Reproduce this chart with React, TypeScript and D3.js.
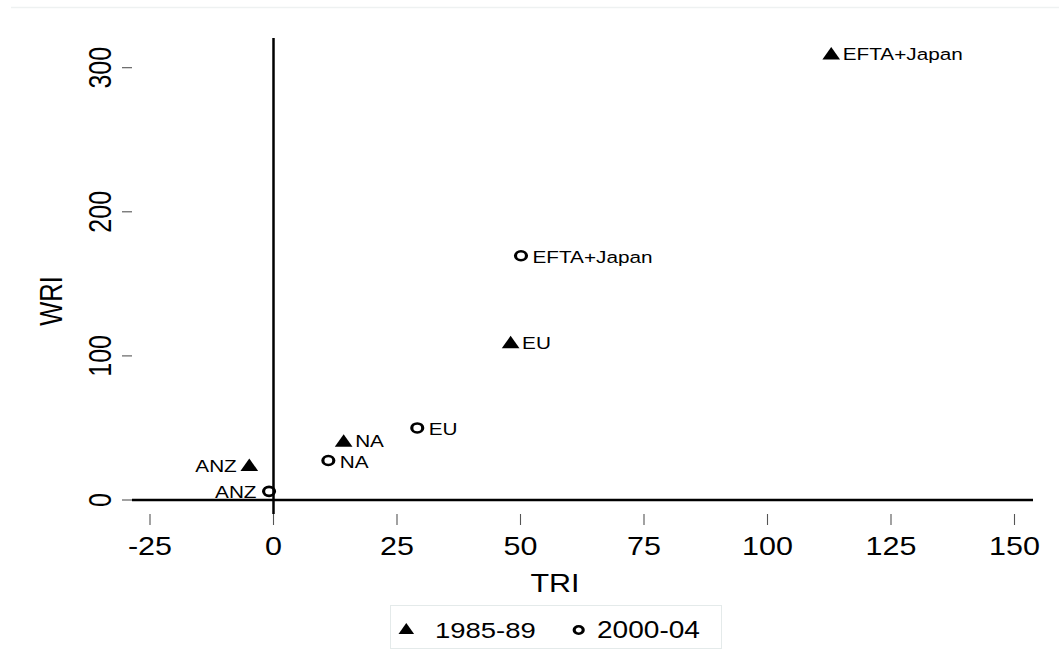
import React, { useEffect, useRef } from 'react'
import * as d3 from 'd3'

// regions and their indices (TRI on x, WRI on y)
const regions = ['ANZ', 'NA', 'EU', 'EFTA+Japan']
const tri1985 = [-4.9, 14.2, 48.0, 112.9]
const wri1985 = [24.5, 41.3, 109.6, 310]
const tri2000 = [-0.9, 11.1, 29.1, 50.1]
const wri2000 = [6.0, 27.4, 50.0, 169.5]
// label side for each region: left for ANZ, right for the rest
const labelLeft = [true, false, false, false]

const xTicks = [-25, 0, 25, 50, 75, 100, 125, 150]
const yTicks = [0, 100, 200, 300]
const seriesNames = ['1985-89', '2000-04']

const STRETCH = 1.22
const FONT = 'Liberation Sans, Arial, Helvetica, sans-serif'

const App = () => {
  const ref = useRef<SVGSVGElement>(null)

  useEffect(() => {
    const width = 1059
    const height = 649

    const x = d3.scaleLinear().domain([-25, 150]).range([150, 1014.5])
    const y = d3.scaleLinear().domain([0, 300]).range([500, 67.7])

    // plot region edges
    const left = 132, right = 1033, top = 38, bottom = 514

    const svg = d3.select(ref.current)
      .attr('width', width)
      .attr('height', height)
    svg.selectAll('*').remove()

    svg.append('rect').attr('width', width).attr('height', height).attr('fill', '#fff')
    svg.append('line')
      .attr('x1', 11).attr('x2', width).attr('y1', 7.5).attr('y2', 7.5)
      .attr('stroke', '#eef1f1').attr('stroke-width', 1.5)

    const text = (g: any, label: string, tx: number, ty: number, size: number, anchor: string, rotate = false) =>
      g.append('text')
        .attr('transform', `translate(${tx},${ty}) scale(${STRETCH},1)${rotate ? ' rotate(-90)' : ''}`)
        .attr('text-anchor', anchor)
        .attr('font-family', FONT)
        .attr('font-size', size)
        .attr('fill', '#000')
        .text(label)

    // y axis ticks + labels
    const yAxis = svg.append('g')
    yTicks.forEach(t => {
      yAxis.append('line').attr('x1', 122).attr('x2', left).attr('y1', y(t)).attr('y2', y(t))
        .attr('stroke', '#555').attr('stroke-width', 1.1)
      text(yAxis, String(t), 111, y(t), 25, 'middle', true)
    })
    text(yAxis, 'WRI', 62, 301, 25.5, 'middle', true)

    // x axis ticks + labels
    const xAxis = svg.append('g')
    xTicks.forEach(t => {
      xAxis.append('line').attr('x1', x(t)).attr('x2', x(t)).attr('y1', bottom).attr('y2', 525)
        .attr('stroke', '#555').attr('stroke-width', 1.1)
      text(xAxis, String(t), x(t), 555, 25, 'middle')
    })
    text(xAxis, 'TRI', 555, 591.5, 25, 'middle')

    // zero lines
    svg.append('line').attr('x1', left).attr('x2', right).attr('y1', y(0)).attr('y2', y(0))
      .attr('stroke', '#000').attr('stroke-width', 2.5)
    svg.append('line').attr('x1', x(0)).attr('x2', x(0)).attr('y1', top).attr('y2', bottom)
      .attr('stroke', '#000').attr('stroke-width', 2.5)

    const triangle = (g: any, cx: number, cy: number, s: number) =>
      g.append('path')
        .attr('transform', `translate(${cx},${cy}) scale(${STRETCH},1)`)
        .attr('d', `M${-s * 0.58},${s * 0.5}L${s * 0.58},${s * 0.5}L0,${-s * 0.5}Z`)
        .attr('fill', '#000')

    const ring = (g: any, cx: number, cy: number, r: number) =>
      g.append('circle')
        .attr('transform', `translate(${cx},${cy}) scale(${STRETCH},1)`)
        .attr('r', r)
        .attr('fill', 'none')
        .attr('stroke', '#000')
        .attr('stroke-width', 2.6)

    const marks = svg.append('g')
    regions.forEach((name, i) => {
      const px = x(tri1985[i]), py = y(wri1985[i])
      triangle(marks, px, py, 12.5)
      text(marks, name, labelLeft[i] ? px - 12.5 : px + 11.5, py + 7, 17, labelLeft[i] ? 'end' : 'start')

      const cx = x(tri2000[i]), cy = y(wri2000[i])
      ring(marks, cx, cy, 4.5)
      text(marks, name, labelLeft[i] ? cx - 12.5 : cx + 11.5, cy + 7, 17, labelLeft[i] ? 'end' : 'start')
    })

    // legend
    const legend = svg.append('g')
    legend.append('rect')
      .attr('x', 390.5).attr('y', 605.5).attr('width', 331).attr('height', 43)
      .attr('fill', '#fff').attr('stroke', '#e4eaea').attr('stroke-width', 1)
    triangle(legend, 406.3, 628.5, 11)
    text(legend, seriesNames[0], 435, 637.5, 22.5, 'start')
    ring(legend, 578.7, 630, 3.7)
    text(legend, seriesNames[1], 597, 637.5, 23, 'start')
  }, [])

  return (
    <svg ref={ref} style={{ position: 'absolute', left: 0, top: 0, display: 'block' }}></svg>
  )
}

export default App
